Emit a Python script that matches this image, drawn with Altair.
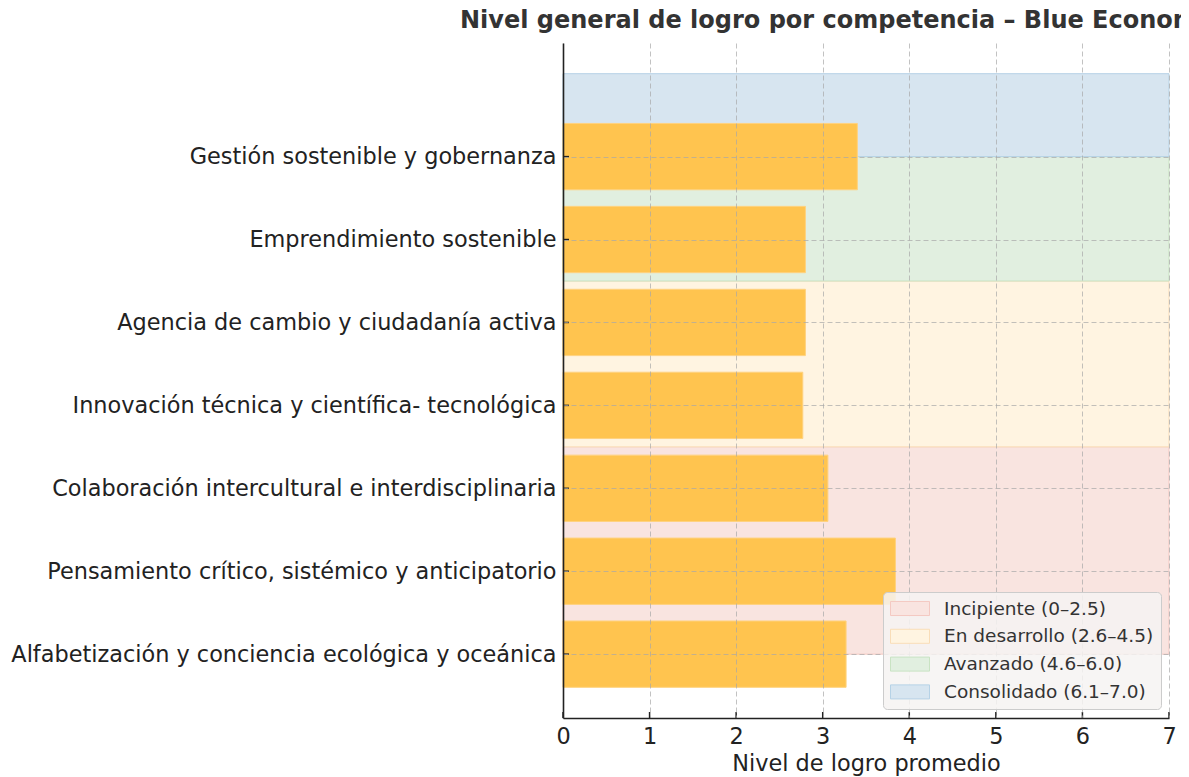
import json
import altair as alt
import pandas as pd

# ---------------- data ----------------
CATEGORIES = [
    "Alfabetización y conciencia ecológica y oceánica",
    "Pensamiento crítico, sistémico y anticipatorio",
    "Colaboración intercultural e interdisciplinaria",
    "Innovación técnica y científica- tecnológica",
    "Agencia de cambio y ciudadanía activa",
    "Emprendimiento sostenible",
    "Gestión sostenible y gobernanza",
]
VALUES = [3.27, 3.84, 3.06, 2.77, 2.80, 2.80, 3.40]

LEVELS = [
    "Incipiente (0–2.5)",
    "En desarrollo (2.6–4.5)",
    "Avanzado (4.6–6.0)",
    "Consolidado (6.1–7.0)",
]
LEVEL_START = [0.0, 2.5, 4.5, 6.0]
LEVEL_END = [2.5, 4.5, 6.0, 7.0]
LEVEL_FILL = ["#F9E4E0", "#FFF4E1", "#E1EFE0", "#D7E5F0"]
LEVEL_EDGE = ["#F4C9C2", "#F9DDB8", "#C9E3C3", "#B6D2E6"]

X_TICKS = [0, 1, 2, 3, 4, 5, 6, 7]
TITLE = "Nivel general de logro por competencia – Blue Economy"
X_TITLE = "Nivel de logro promedio"

BAR_COLOR = "#FFC44F"
BAR_EDGE = "#FFD27F"
INK = "#222222"
FONT = "DejaVu Sans"
FS = 22.4

# ---------------- layout ----------------
W, H = 606, 675
PAD = {"left": 555, "top": 35, "right": 12, "bottom": 59}

idx = list(range(len(CATEGORIES)))
bars_df = pd.DataFrame({
    "cat": CATEGORIES,
    "idx": idx,
    "value": VALUES,
    "base": [0.0] * len(CATEGORIES),
    "lo": [i - 0.4 for i in idx],
    "hi": [i + 0.4 for i in idx],
})
bands_df = pd.DataFrame({
    "level": LEVELS,
    "start": LEVEL_START,
    "end": LEVEL_END,
    "x0": [X_TICKS[0]] * len(LEVELS),
    "x1": [X_TICKS[-1]] * len(LEVELS),
})
xt_df = pd.DataFrame({"t": X_TICKS})
yt_df = pd.DataFrame({"i": idx})

xscale = alt.Scale(domain=[X_TICKS[0], X_TICKS[-1]], nice=False, zero=False)
yscale = alt.Scale(domain=[-0.77, 7.37], nice=False, zero=False)

label_expr = json.dumps(CATEGORIES, ensure_ascii=False) + "[round(datum.value)]"

grid_kw = dict(grid=True, gridDash=[5, 3], gridColor="#a8a8a8", gridOpacity=0.7, gridWidth=1)

x_axis = alt.Axis(
    values=X_TICKS, format="d", ticks=False, labelFlush=False, labelOverlap=False,
    labelFont=FONT, labelFontSize=FS, labelColor=INK, labelPadding=7,
    domainColor=INK, domainWidth=1.6,
    title=X_TITLE, titleFont=FONT, titleFontSize=FS, titleFontWeight="normal",
    titleColor=INK, titleBaseline="alphabetic", titleY=52, titleX=W / 2,
    titleAlign="center", zindex=1, **grid_kw,
)
y_axis = alt.Axis(
    values=idx, labelExpr=label_expr, ticks=False, labelOverlap=False,
    labelFont=FONT, labelFontSize=FS, labelColor=INK, labelPadding=7,
    labelLimit=1000, domainColor=INK, domainWidth=1.6, title=None,
    zindex=1, **grid_kw,
)

legend_kw = dict(
    title=None, orient="none", legendX=320, legendY=549, direction="vertical",
    symbolType="M-1,-0.36L1,-0.36L1,0.36L-1,0.36Z", symbolSize=1521,
    symbolStrokeWidth=1, symbolOpacity=1, clipHeight=19, rowPadding=8.8,
    labelFont=FONT, labelFontSize=18.5, labelColor="#333333", labelOffset=14,
    padding=7, fillColor="rgba(246,243,242,0.85)", strokeColor="#cccccc",
    cornerRadius=4, zindex=2, labelLimit=400,
)

bands = alt.Chart(bands_df).mark_rect(strokeWidth=1).encode(
    x=alt.X("x0:Q", scale=xscale, axis=x_axis),
    x2="x1:Q",
    y=alt.Y("start:Q", scale=yscale, axis=y_axis),
    y2="end:Q",
    fill=alt.Fill("level:N", scale=alt.Scale(domain=LEVELS, range=LEVEL_FILL),
                  legend=alt.Legend(**legend_kw)),
    stroke=alt.Stroke("level:N", scale=alt.Scale(domain=LEVELS, range=LEVEL_EDGE),
                      legend=alt.Legend(**legend_kw)),
)

bars = alt.Chart(bars_df).mark_rect(color=BAR_COLOR, stroke=BAR_EDGE, strokeWidth=1).encode(
    x=alt.X("base:Q", scale=xscale, axis=x_axis),
    x2="value:Q",
    y=alt.Y("lo:Q", scale=yscale, axis=y_axis),
    y2="hi:Q",
)

xticks = alt.Chart(xt_df).mark_rule(color=INK, strokeWidth=1.5).encode(
    x=alt.X("t:Q", scale=xscale, axis=x_axis),
    y=alt.value(H),
    y2=alt.value(H - 6),
)
yticks = alt.Chart(yt_df).mark_rule(color=INK, strokeWidth=1.5).encode(
    y=alt.Y("i:Q", scale=yscale, axis=y_axis),
    x=alt.value(0),
    x2=alt.value(6),
)

chart = alt.layer(bands, bars, xticks, yticks).properties(
    width=W, height=H,
    autosize=alt.AutoSizeParams(type="none"),
    padding=PAD,
    title=alt.TitleParams(
        TITLE, anchor="start", frame="group", dx=-103, dy=22, offset=13,
        font=FONT, fontSize=24, fontWeight="bold", color="#333333",
        baseline="alphabetic",
    ),
).configure(font=FONT, background="white").configure_view(strokeWidth=0)

chart.save("out.html", embed_options={"renderer": "svg", "actions": False})
